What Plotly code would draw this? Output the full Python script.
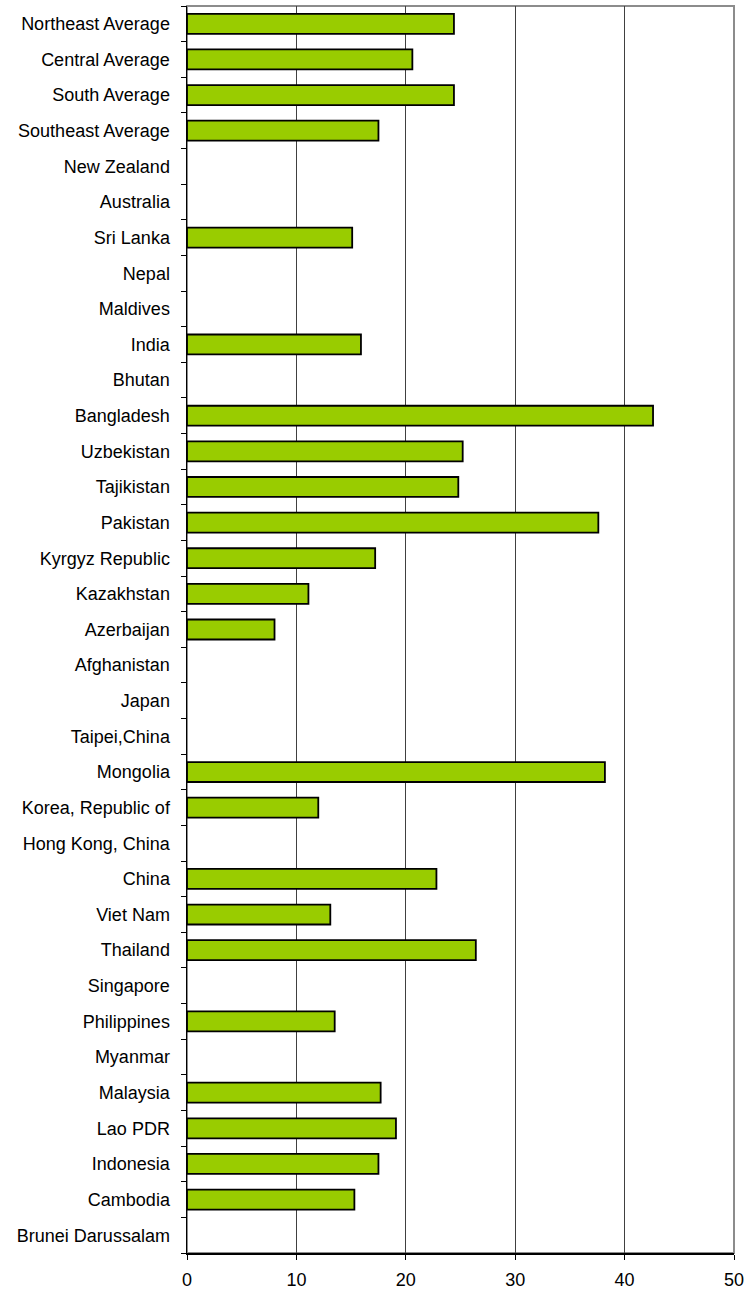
import plotly.graph_objects as go

categories = [
    "Brunei Darussalam", "Cambodia", "Indonesia", "Lao PDR", "Malaysia", "Myanmar",
    "Philippines", "Singapore", "Thailand", "Viet Nam", "China", "Hong Kong, China",
    "Korea, Republic of", "Mongolia", "Taipei,China", "Japan", "Afghanistan",
    "Azerbaijan", "Kazakhstan", "Kyrgyz Republic", "Pakistan", "Tajikistan",
    "Uzbekistan", "Bangladesh", "Bhutan", "India", "Maldives", "Nepal", "Sri Lanka",
    "Australia", "New Zealand", "Southeast Average", "South Average",
    "Central Average", "Northeast Average",
]
values = [
    None, 15.3, 17.5, 19.1, 17.7, None,
    13.5, None, 26.4, 13.1, 22.8, None,
    12.0, 38.2, None, None, None,
    8.0, 11.1, 17.2, 37.6, 24.8,
    25.2, 42.6, None, 15.9, None, None, 15.1,
    None, None, 17.5, 24.4,
    20.6, 24.4,
]
x_ticks = [0, 10, 20, 30, 40, 50]

fig = go.Figure(go.Bar(
    y=categories, x=values, orientation="h",
    marker=dict(color="#99CC00", line=dict(color="#000000", width=1.8)),
))

font = dict(family="Liberation Sans, Arial, sans-serif", size=18, color="#000000")

fig.update_layout(
    width=747, height=1292,
    margin=dict(l=187, r=13, t=6, b=39),
    paper_bgcolor="white", plot_bgcolor="white",
    showlegend=False, bargap=0.44,
    font=font,
    shapes=[dict(type="rect", xref="paper", yref="paper", x0=0, x1=1, y0=0, y1=1,
                 line=dict(color="#8c8c8c", width=2), layer="below")],
)
fig.update_xaxes(
    range=[0, 50], tickvals=x_ticks, ticktext=[str(v) for v in x_ticks],
    showgrid=True, gridcolor="#404040", gridwidth=1,
    showline=True, linecolor="#000000", linewidth=1.5,
    ticks="outside", ticklen=5, tickcolor="#000000", tickwidth=1,
    zeroline=False, tickfont=font, ticklabelstandoff=5, fixedrange=True,
    automargin=False,
)
fig.update_yaxes(
    categoryorder="array", categoryarray=categories, type="category",
    range=[-0.5, len(categories) - 0.5],
    showline=True, linecolor="#000000", linewidth=1.5,
    ticks="outside", ticklen=5, tickcolor="#000000", tickwidth=1,
    tickson="boundaries", showgrid=False,
    tickfont=font, ticklabelstandoff=12, fixedrange=True,
    automargin=False,
)

fig.write_html(
    "out.html",
    config={"displayModeBar": False, "staticPlot": True},
    post_script="document.body.style.margin='0';document.body.style.overflow='hidden';",
)
